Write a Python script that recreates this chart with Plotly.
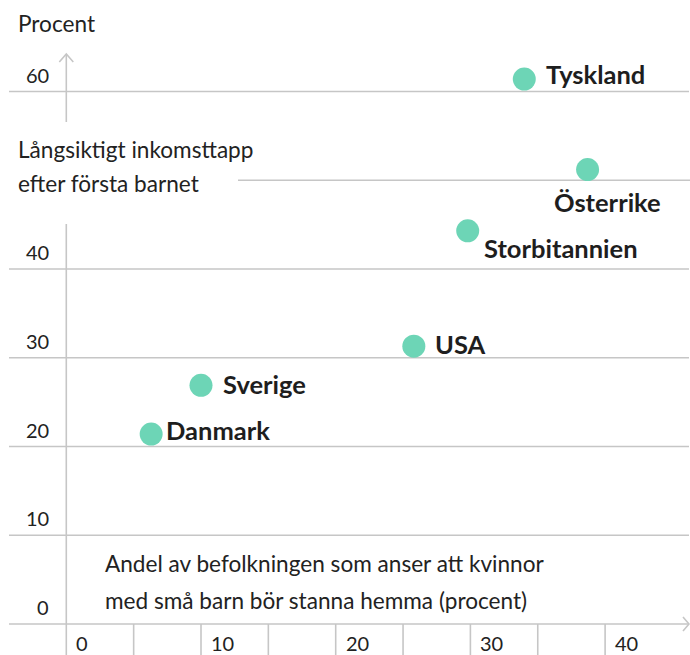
import plotly.graph_objects as go

# ---- data ----
countries = ["Danmark", "Sverige", "USA", "Storbitannien", "Tyskland", "Österrike"]
share_home = [6.3, 10.0, 25.8, 29.8, 34.0, 38.7]        # x: andel som anser att kvinnor bör stanna hemma
income_loss = [21.4, 26.9, 31.3, 44.3, 61.4, 51.2]      # y: långsiktigt inkomsttapp (procent)

x_tick_vals = [0, 10, 20, 30, 40]
x_tick_labels = ["0", "10", "20", "30", "40"]
x_minor_ticks = [0, 5, 10, 15, 20, 25, 30, 35, 40]
y_tick_vals = [0, 10, 20, 30, 40, 60]
y_tick_labels = ["0", "10", "20", "30", "40", "60"]
y_grid_partial = [50]

# ---- layout constants ----
W, H = 690, 655
X0_PX, X_PER = 66.3, 13.47      # pixel of x=0, pixels per x unit
Y0_PX, Y_PER = 624.0, 8.875     # pixel of y=0, pixels per y unit

def px2x(px):
    return (px - X0_PX) / X_PER

def px2y(py):
    return (Y0_PX - py) / Y_PER

XR = [px2x(0), px2x(W)]
YR = [px2y(H), px2y(0)]

FONT = "Lato"
GRID = "#c6c6c6"
TXT = "#222222"
DOT = "#6dd5b6"

fig = go.Figure()
fig.add_trace(go.Scatter(
    x=share_home, y=income_loss, mode="markers",
    marker=dict(size=23, color=DOT, line=dict(width=0)),
    hoverinfo="text", text=countries, showlegend=False,
))

shapes = []
# horizontal grid lines
for yv in y_tick_vals:
    shapes.append(dict(type="line", xref="x", yref="y", x0=px2x(9), x1=px2x(689), y0=yv, y1=yv,
                       line=dict(color=GRID, width=1.6), layer="below"))
for yv in y_grid_partial:
    shapes.append(dict(type="line", xref="x", yref="y", x0=px2x(238), x1=XR[1], y0=yv, y1=yv,
                       line=dict(color=GRID, width=1.6), layer="below"))
# x tick marks below the x axis
for xv in x_minor_ticks:
    shapes.append(dict(type="line", xref="x", yref="y", x0=xv, x1=xv, y0=0, y1=YR[0],
                       line=dict(color=GRID, width=1.6), layer="below"))
# y axis line, broken by the axis title
shapes.append(dict(type="line", xref="x", yref="y", x0=0, x1=0, y0=0, y1=px2y(224),
                   line=dict(color=GRID, width=1.6), layer="below"))
top_tip = px2y(54)
shapes.append(dict(type="line", xref="x", yref="y", x0=0, x1=0, y0=px2y(122), y1=top_tip,
                   line=dict(color=GRID, width=1.6), layer="below"))
# arrow heads
ax_w, ay_h = 7 / X_PER, 8 / Y_PER
shapes.append(dict(type="path", xref="x", yref="y",
                   path=f"M {-ax_w} {top_tip - ay_h} L 0 {top_tip} L {ax_w} {top_tip - ay_h}",
                   line=dict(color=GRID, width=1.6), layer="below"))
right_tip = px2x(689)
bx_w, by_h = 6 / X_PER, 7 / Y_PER
shapes.append(dict(type="path", xref="x", yref="y",
                   path=f"M {right_tip - bx_w} {by_h} L {right_tip} 0 L {right_tip - bx_w} {-by_h}",
                   line=dict(color=GRID, width=1.6), layer="below"))

annotations = []
# y tick labels
for yv, lab in zip(y_tick_vals, y_tick_labels):
    annotations.append(dict(x=px2x(51), y=yv, xref="x", yref="y", text=lab, showarrow=False,
                            xanchor="right", yanchor="middle", yshift=17,
                            font=dict(family=FONT, size=20, color=TXT)))
# x tick labels
for xv, lab in zip(x_tick_vals, x_tick_labels):
    annotations.append(dict(x=xv, y=0, xref="x", yref="y", text=lab, showarrow=False,
                            xanchor="left", yanchor="middle", xshift=8, yshift=-19,
                            font=dict(family=FONT, size=20, color=TXT)))

# country labels (offsets in pixels)
label_offsets = {
    "Danmark": (13, 4),
    "Sverige": (20, 1),
    "USA": (19, 2),
    "Storbitannien": (14, -17),
    "Tyskland": (20, 5),
    "Österrike": (-36, -32),
}
for c, xv, yv in zip(countries, share_home, income_loss):
    dx, dy = label_offsets[c]
    annotations.append(dict(x=xv, y=yv, xref="x", yref="y", text=f"<b>{c}</b>", showarrow=False,
                            xanchor="left", yanchor="middle", xshift=dx, yshift=dy,
                            font=dict(family=FONT, size=25.5, color="#1e1e1e")))

# axis titles
def paper_text(text, left_px, center_px, size=22.6):
    return dict(x=left_px / W, y=1 - center_px / H, xref="paper", yref="paper", text=text,
                showarrow=False, xanchor="left", yanchor="middle",
                font=dict(family=FONT, size=size, color=TXT))

annotations.append(paper_text("Procent", 16, 23))
annotations.append(paper_text("Långsiktigt inkomsttapp", 16, 149))
annotations.append(paper_text("efter första barnet", 16, 183))
annotations.append(paper_text("Andel av befolkningen som anser att kvinnor", 103, 563))
annotations.append(paper_text("med små barn bör stanna hemma (procent)", 103, 600))

fig.update_layout(
    width=W, height=H,
    margin=dict(l=0, r=0, t=0, b=0),
    paper_bgcolor="white", plot_bgcolor="white",
    xaxis=dict(range=XR, visible=False, fixedrange=True),
    yaxis=dict(range=YR, visible=False, fixedrange=True),
    shapes=shapes, annotations=annotations,
    showlegend=False,
)

fig.write_html("out.html", config={"displayModeBar": False},
               post_script="document.body.style.margin='0';document.body.style.overflow='hidden';")
